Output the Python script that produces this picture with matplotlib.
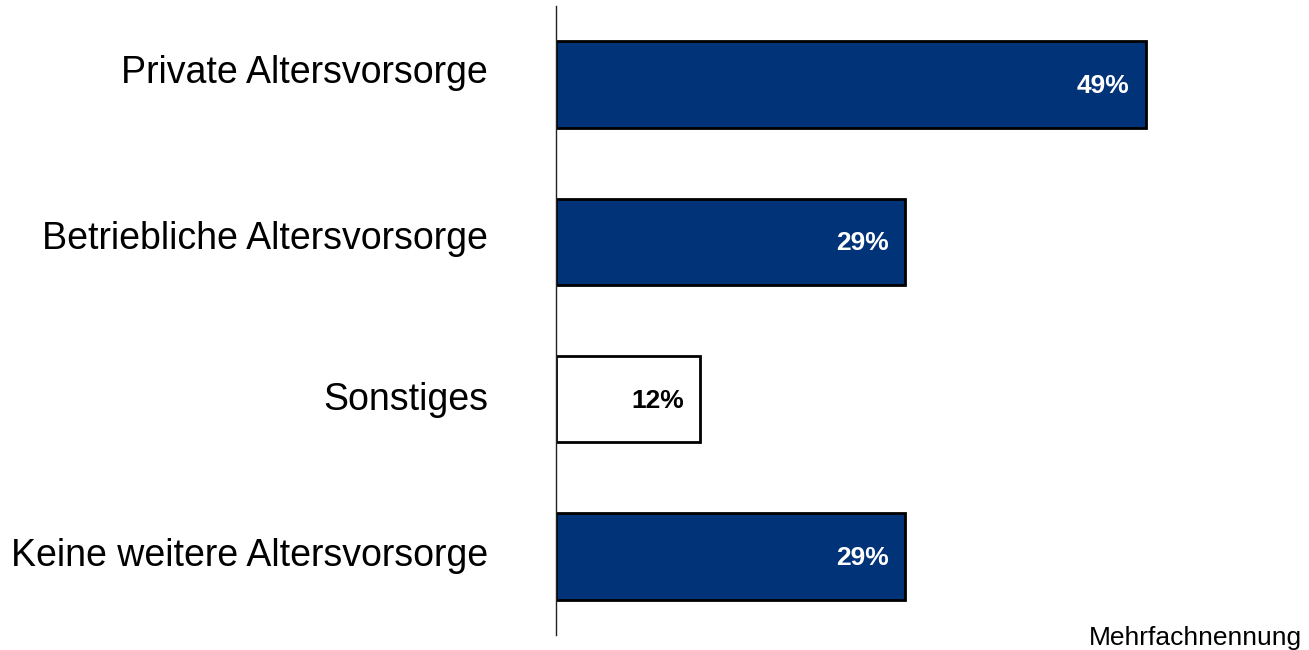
import matplotlib.pyplot as plt
from matplotlib.transforms import ScaledTranslation

plt.rcParams['font.family'] = ['Liberation Sans', 'DejaVu Sans']

categories = ['Private Altersvorsorge', 'Betriebliche Altersvorsorge',
              'Sonstiges', 'Keine weitere Altersvorsorge']
values = [49, 29, 12, 29]
colors = ['#003378', '#003378', '#ffffff', '#003378']
label_colors = ['white', 'white', 'black', 'white']

fig = plt.figure(figsize=(13.09, 6.5), dpi=100)
ax = fig.add_axes([556 / 1309, 15 / 650, 600 / 1309, 629 / 650])

ypos = list(range(len(categories)))
ax.barh(ypos, values, height=0.55, color=colors, edgecolor='black', linewidth=2.0, zorder=2)

for y, v, c in zip(ypos, values, label_colors):
    ax.annotate(f'{v}%', xy=(v, y), xytext=(-12, -1), textcoords='offset points',
                ha='right', va='center', fontsize=19, fontweight='bold', color=c)

ax.set_xlim(0, 49.83)
ax.set_ylim(3.5, -0.5)
ax.set_yticks(ypos)
ax.set_yticklabels(categories, fontsize=27)
ax.tick_params(axis='y', length=0, pad=49)

# labels sit a little above the bar centres
shifts = [11, 5, 2, 3]
for lab, dy in zip(ax.get_yticklabels(), shifts):
    lab.set_transform(lab.get_transform() + ScaledTranslation(0, dy / 72, fig.dpi_scale_trans))

ax.set_xticks([])
for side in ['top', 'right', 'bottom']:
    ax.spines[side].set_visible(False)
ax.spines['left'].set_linewidth(1.0)
ax.spines['left'].set_color('#222222')

fig.text(0.995, 0.0, 'Mehrfachnennung', ha='right', va='bottom', fontsize=19)

plt.savefig('out.png', dpi=100)
